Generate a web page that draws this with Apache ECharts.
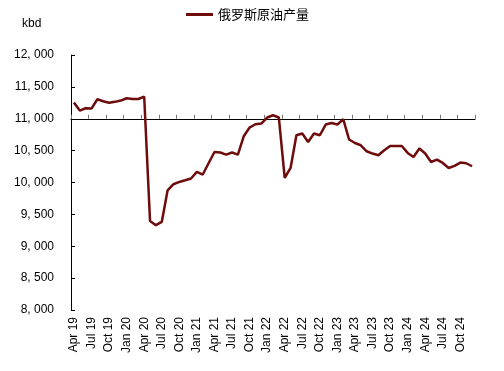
<!DOCTYPE html>
<html>
<head>
<meta charset="utf-8">
<script src="https://cdn.jsdelivr.net/npm/echarts@6/dist/echarts.min.js"></script>
<style>
html,body{margin:0;padding:0;background:#fff;}
#chart{width:504px;height:371px;}
</style>
</head>
<body>
<div id="chart"></div>
<script>
var seriesName = '俄罗斯原油产量';
var unitLabel = 'kbd';
var categories = [
  'Apr 19','May 19','Jun 19','Jul 19','Aug 19','Sep 19','Oct 19','Nov 19','Dec 19',
  'Jan 20','Feb 20','Mar 20','Apr 20','May 20','Jun 20','Jul 20','Aug 20','Sep 20','Oct 20','Nov 20','Dec 20',
  'Jan 21','Feb 21','Mar 21','Apr 21','May 21','Jun 21','Jul 21','Aug 21','Sep 21','Oct 21','Nov 21','Dec 21',
  'Jan 22','Feb 22','Mar 22','Apr 22','May 22','Jun 22','Jul 22','Aug 22','Sep 22','Oct 22','Nov 22','Dec 22',
  'Jan 23','Feb 23','Mar 23','Apr 23','May 23','Jun 23','Jul 23','Aug 23','Sep 23','Oct 23','Nov 23','Dec 23',
  'Jan 24','Feb 24','Mar 24','Apr 24','May 24','Jun 24','Jul 24','Aug 24','Sep 24','Oct 24','Nov 24','Dec 24'
];
var production = [
  11254, 11128, 11165, 11160, 11306, 11275, 11250, 11265, 11285,
  11321, 11310, 11310, 11348, 9397, 9330, 9381, 9878, 9973, 10009, 10035, 10062,
  10166, 10125, 10302, 10479, 10470, 10438, 10470, 10438, 10725, 10862, 10914, 10925,
  11019, 11055, 11019, 10071, 10228, 10741, 10768, 10636, 10768, 10741, 10909, 10934,
  10909, 10992, 10674, 10620, 10584, 10490, 10454, 10427, 10506, 10573, 10573, 10573,
  10464, 10401, 10533, 10454, 10322, 10360, 10307, 10228, 10260, 10313, 10302, 10255
];
var yMin = 8000, yMax = 12000, yStep = 500, crossValue = 11000;

var chart = echarts.init(document.getElementById('chart'), null, {renderer: 'canvas'});
var gridTop = 55, gridBottom = 61, H = 371;
var gridH = H - gridTop - gridBottom;
var crossOffset = -((yMax - crossValue) / (yMax - yMin) * gridH - gridH);
var font = 'Liberation Sans, Arial, sans-serif';
chart.setOption({
  animation: false,
  backgroundColor: '#fff',
  legend: {
    top: 3, left: 181,
    icon: 'rect',
    itemWidth: 27, itemHeight: 3,
    textStyle: {fontSize: 13, color: '#000', fontFamily: 'Noto Sans CJK SC, sans-serif'},
    data: [seriesName]
  },
  graphic: [{
    type: 'text', left: 22, top: 18,
    style: {text: unitLabel, fontSize: 12, fill: '#000', fontFamily: font}
  }],
  grid: {left: 71, right: 29, top: gridTop, bottom: gridBottom, containLabel: false},
  xAxis: [{
    type: 'category', data: categories, position: 'bottom', boundaryGap: true,
    axisLine: {show: false}, axisTick: {show: false},
    axisLabel: {rotate: 90, interval: 2, margin: 7, fontSize: 12, color: '#000', fontFamily: font}
  }, {
    type: 'category', data: categories, position: 'bottom', boundaryGap: true,
    offset: -crossOffset,
    axisLine: {show: true, lineStyle: {color: '#000', width: 1}},
    axisTick: {show: true, inside: true, length: 4, interval: 2, lineStyle: {color: '#777'}},
    axisLabel: {show: false}
  }],
  yAxis: {
    type: 'value', min: yMin, max: yMax, interval: yStep,
    axisLine: {show: true, lineStyle: {color: '#000', width: 1}},
    axisTick: {show: true, inside: true, length: 4, lineStyle: {color: '#000'}},
    splitLine: {show: false},
    axisLabel: {
      margin: 17, fontSize: 12, color: '#000', fontFamily: font,
      formatter: function (v) {
        var s = String(v);
        return s.length > 3 ? s.slice(0, s.length - 3) + ', ' + s.slice(s.length - 3) : s;
      }
    }
  },
  series: [{
    name: seriesName, type: 'line', xAxisIndex: 0, data: production,
    symbol: 'none', showSymbol: false, smooth: false,
    lineStyle: {color: '#6E0B0B', width: 2.5},
    itemStyle: {color: '#6E0B0B'}
  }]
});
</script>
</body>
</html>
